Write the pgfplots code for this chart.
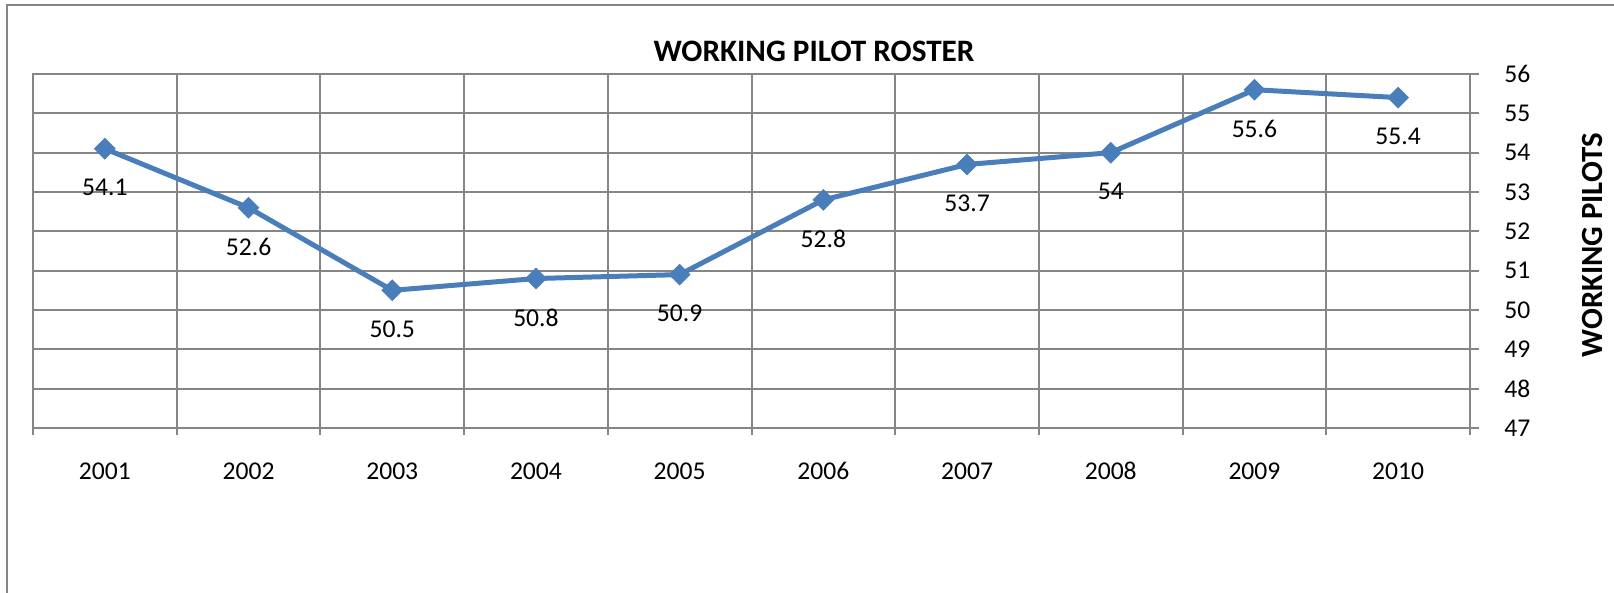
\documentclass[border=0pt]{standalone}
\usepackage{pgfplots}
\pgfplotsset{compat=1.18}
\usepackage{fontspec}
\setmainfont{Carlito}
\definecolor{gridgray}{RGB}{134,134,134}
\definecolor{lineblue}{RGB}{74,126,187}
\begin{document}
\begin{tikzpicture}
\path[use as bounding box] (0,0) rectangle (807bp,296.5bp);
\draw[gridgray, line width=1bp] (3.5bp,0) -- (3.5bp,294bp) -- (807bp,294bp);
\begin{axis}[
  at={(16.5bp,82.5bp)}, anchor=south west,
  scale only axis, width=718.5bp, height=177bp,
  xmin=0.5, xmax=10.5, ymin=47, ymax=56,
  xtick={1,2,3,4,5,6,7,8,9,10},
  xticklabels={2001,2002,2003,2004,2005,2006,2007,2008,2009,2010},
  minor xtick={0.5,1.5,...,10.5},
  ytick={47,48,...,56},
  xminorgrids=true, ymajorgrids=true,
  minor x grid style={gridgray, line width=1bp},
  major y grid style={gridgray, line width=1bp},
  axis line style={gridgray, line width=1bp},
  major x tick style={draw=none},
  minor x tick style={gridgray, line width=1bp},
  major y tick style={gridgray, line width=1bp},
  tick align=outside,
  major tick length=4.5bp, minor tick length=3.5bp,
  xtick pos=left, ytick pos=right, yticklabel pos=right,
  /pgf/number format/assume math mode=true,
  tick label style={font=\fontsize{12.8bp}{15bp}\selectfont, black},
  xticklabel style={anchor=center, yshift=-17bp},
  yticklabel style={anchor=west, inner sep=0pt, xshift=12.5bp},
  title={WORKING PILOT ROSTER},
  every axis title shift=0pt,
  title style={at={(rel axis cs:0.5435,1.035)}, anchor=base, yshift=0pt, font=\bfseries\fontsize{15.6bp}{18bp}\selectfont},
  ylabel={WORKING PILOTS},
  ylabel style={at={(rel axis cs:1.092,0.517)}, anchor=base, font=\bfseries\fontsize{15.4bp}{18bp}\selectfont},
  clip=false,
  nodes near coords,
  every node near coord/.append style={font=\fontsize{12.8bp}{15bp}\selectfont, black, anchor=center, yshift=-19.5bp},
]
\addplot[lineblue, line width=2.5bp, mark=square*, mark size=3.6bp, mark options={rotate=45, fill=lineblue, draw=lineblue, line width=0.5bp}]
  coordinates {(1,54.1) (2,52.6) (3,50.5) (4,50.8) (5,50.9) (6,52.8) (7,53.7) (8,54) (9,55.6) (10,55.4)};
\end{axis}
\end{tikzpicture}
\end{document}
